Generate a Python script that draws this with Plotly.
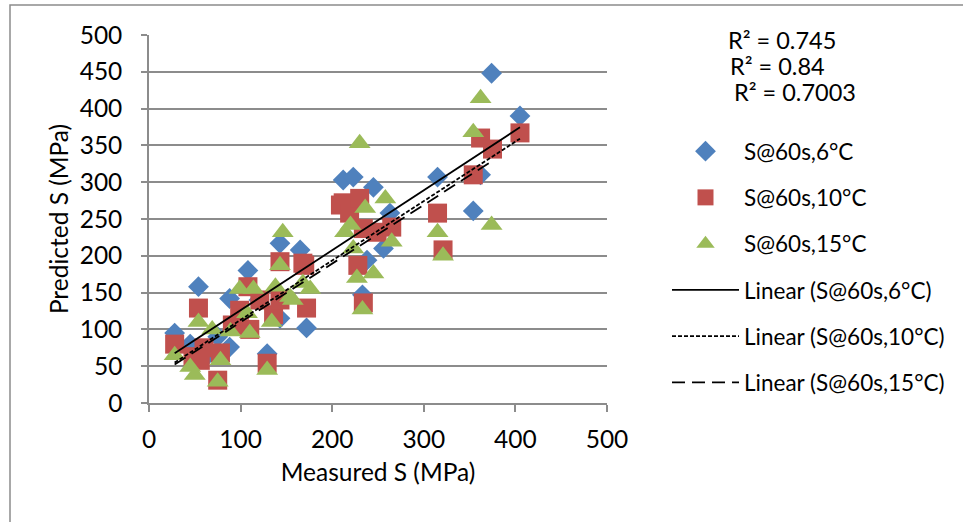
import numpy as np
import plotly.graph_objects as go

# ---- data ----
x_6 = [28, 45, 54, 60, 75, 88, 88, 100, 108, 120, 129, 143, 143, 165, 172,
       212, 223, 233, 238, 245, 256, 263, 315, 354, 362, 374, 405]
y_6 = [95, 80, 158, 60, 90, 142, 76, 120, 180, 140, 67, 217, 115, 208, 102,
       303, 307, 147, 194, 293, 210, 258, 307, 261, 310, 448, 390]

x_10 = [28, 48, 54, 56, 60, 75, 78, 91, 99, 108, 110, 121, 129, 136, 143, 143, 168,
        170, 172, 209, 212, 219, 228, 230, 234, 234, 249, 265, 315, 321, 354, 362, 375, 405]
y_10 = [80, 63, 129, 58, 75, 31, 68, 106, 126, 158, 100, 140, 54, 120, 192, 140, 190,
        187, 129, 269, 272, 258, 187, 278, 237, 136, 232, 239, 258, 208, 310, 360, 345, 367]

x_15 = [28, 45, 50, 54, 69, 75, 78, 89, 99, 107, 110, 114, 129, 134, 138, 143, 146,
        154, 157, 168, 176, 214, 220, 223, 227, 230, 233, 236, 245, 258, 265, 315, 321,
        354, 362, 374]
y_15 = [65, 49, 38, 110, 100, 29, 58, 97, 155, 122, 95, 155, 45, 110, 158, 187, 232,
        144, 140, 163, 155, 232, 242, 210, 170, 353, 127, 265, 176, 278, 219, 232, 200,
        368, 414, 242]

series_names = ["S@60s,6°C", "S@60s,10°C", "S@60s,15°C"]
r2_labels = ["R² = 0.745", "R² = 0.84", "R² = 0.7003"]
x_ticks = [0, 100, 200, 300, 400, 500]
y_ticks = [0, 50, 100, 150, 200, 250, 300, 350, 400, 450, 500]

# ---- styles ----
FONT = "Lato"
colors = ["#4F81BD", "#C0504D", "#9BBB59"]
symbols = ["diamond", "square", "triangle-up"]
sizes = [16, 19, 19]
dashes = ["solid", "4px,2px", "13px,7px"]
GRID = "#8C8C8C"
AX_FS = 24.5

fig = go.Figure()
data = [(x_6, y_6), (x_10, y_10), (x_15, y_15)]
for i, (xs, ys) in enumerate(data):
    fig.add_trace(go.Scatter(
        x=xs, y=ys, mode="markers", name=series_names[i],
        legendgroup="m%d" % i,
        marker=dict(symbol=symbols[i], color=colors[i], size=sizes[i],
                    line=dict(width=0)),
    ))
for i, (xs, ys) in enumerate(data):
    k, b = np.polyfit(xs, ys, 1)
    xl = np.array([min(xs), max(xs)])
    fig.add_trace(go.Scatter(
        x=xl, y=k * xl + b, mode="lines", name="Linear (%s)" % series_names[i],
        legendgroup="l%d" % i,
        line=dict(color="black", width=1.8, dash=dashes[i]),
    ))

# R² labels
r2_x = [726, 728, 732]
r2_y = [40, 66, 92]
for lab, px, py in zip(r2_labels, r2_x, r2_y):
    fig.add_annotation(text=lab, xref="paper", yref="paper",
                       x=(px - 149) / 458, y=(403 - py) / 368,
                       xanchor="left", yanchor="middle", showarrow=False,
                       font=dict(family=FONT, size=23.5, color="black"))

# chart-area border
fig.add_shape(type="rect", xref="paper", yref="paper",
              x0=(10 - 149) / 458, x1=(990 - 149) / 458,
              y0=(403 - 560) / 368, y1=(403 - 5) / 368,
              line=dict(color="#8C8C8C", width=1.5), layer="below")

fig.update_layout(
    width=963, height=522,
    margin=dict(l=149, r=356, t=35, b=119),
    paper_bgcolor="white", plot_bgcolor="white",
    font=dict(family=FONT, size=AX_FS, color="black"),
    showlegend=True,
    legend=dict(x=(667 - 149) / 458, y=(403 - 130) / 368, xanchor="left", yanchor="top",
                tracegroupgap=14, itemwidth=67, bgcolor="rgba(0,0,0,0)",
                font=dict(family=FONT, size=22.5)),
)
fig.update_xaxes(
    range=[0, 500], tickvals=x_ticks, showgrid=False, zeroline=False,
    showline=True, linecolor=GRID, linewidth=1.5,
    ticks="outside", ticklen=7, tickcolor=GRID, tickwidth=1.5,
    ticklabelstandoff=7,
    title=dict(text="Measured S (MPa)", standoff=12, font=dict(size=AX_FS)),
    tickfont=dict(size=AX_FS),
)
fig.update_yaxes(
    range=[0, 500], tickvals=y_ticks, showgrid=True, gridcolor=GRID, gridwidth=1.5,
    zeroline=False, showline=True, linecolor=GRID, linewidth=1.5,
    ticks="outside", ticklen=6, tickcolor=GRID, tickwidth=1.5,
    ticklabelstandoff=14,
    title=dict(text="Predicted S (MPa)", standoff=4, font=dict(size=AX_FS)),
    tickfont=dict(size=AX_FS),
)

fig.write_html("out.html")
